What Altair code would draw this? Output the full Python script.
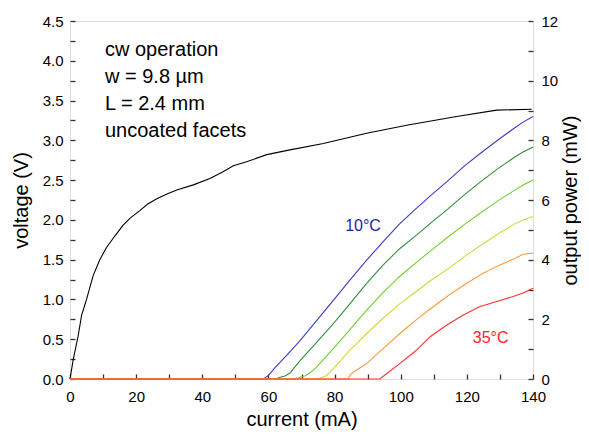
import altair as alt
import pandas as pd

# ---- voltage vs current (black curve, left axis) ----
v_current = [0, 1, 2.5, 3.5, 5, 7, 9, 11, 13.6, 16, 18.1, 21.2, 23.5, 26.4, 29.5,
             32.5, 37.3, 42.3, 46, 49.4, 53.4, 59.5, 66.5, 76.6, 89.7, 101.8, 116.9,
             129, 139.6]
v_voltage = [0, 0.25, 0.55, 0.8, 1.0, 1.3, 1.5, 1.65, 1.8, 1.93, 2.02, 2.12, 2.2, 2.27,
             2.33, 2.38, 2.44, 2.52, 2.6, 2.68, 2.73, 2.82, 2.88, 2.96, 3.09, 3.19,
             3.30, 3.38, 3.39]

# ---- output power vs current for each temperature (right axis) ----
temps = ["10°C", "15°C", "20°C", "25°C", "30°C", "35°C"]
colors = ["#3b3bc9", "#2f8f3a", "#6fd02e", "#cfd93a", "#ff9a3c", "#ff3030"]

p10_c = [0, 58.5, 60, 62, 65, 69.5, 74.5, 79.5, 84.5, 89.5, 94.5, 99.5, 104.3, 109.3,
         114.4, 119.4, 124.5, 129.5, 134.5, 137, 140]
p10_p = [0, 0, 0.12, 0.38, 0.73, 1.28, 1.95, 2.62, 3.3, 3.96, 4.58, 5.18, 5.68, 6.17,
         6.66, 7.15, 7.6, 8.02, 8.42, 8.61, 8.8]

p15_c = [0, 62.3, 63.5, 65, 66.5, 69.5, 74.5, 79.5, 84.5, 89.5, 94.5, 99.5, 104.3, 109.3,
         114.4, 119.4, 124.5, 129.5, 134.5, 137, 140]
p15_p = [0, 0, 0.06, 0.1, 0.2, 0.61, 1.22, 1.84, 2.5, 3.18, 3.8, 4.35, 4.78, 5.25,
         5.71, 6.19, 6.64, 7.06, 7.44, 7.61, 7.78]

p20_c = [0, 67.3, 69, 71, 72.5, 74.5, 79.5, 84.5, 89.5, 94.5, 99.5, 104.3, 109.3, 114.4,
         119.4, 124.5, 129.5, 134.5, 137, 140]
p20_p = [0, 0, 0.04, 0.1, 0.2, 0.39, 1.0, 1.64, 2.28, 2.88, 3.42, 3.87, 4.32, 4.77,
         5.19, 5.6, 5.98, 6.33, 6.5, 6.67]

p25_c = [0, 74.5, 76, 77.5, 79.5, 84.5, 89.5, 94.5, 99.5, 104.3, 109.3, 114.4, 119.4,
         124.5, 129.5, 134.5, 137, 140]
p25_p = [0, 0, 0.04, 0.11, 0.33, 0.95, 1.5, 2.02, 2.5, 2.9, 3.32, 3.7, 4.12, 4.5,
         4.87, 5.2, 5.33, 5.45]

p30_c = [0, 84, 85, 86, 89.5, 94.5, 99.5, 104.3, 109.3, 114.4, 119.4, 124.5, 129.5,
         134.5, 137, 140]
p30_p = [0, 0, 0.17, 0.25, 0.5, 1.0, 1.5, 1.95, 2.38, 2.8, 3.17, 3.52, 3.8, 4.04,
         4.18, 4.22]

p35_c = [0, 93.7, 96, 99.5, 104.3, 108.8, 113.8, 118.8, 123.8, 128.8, 133.8, 137, 140]
p35_p = [0, 0, 0.2, 0.5, 0.92, 1.41, 1.8, 2.14, 2.42, 2.59, 2.76, 2.88, 3.04]

# temperature annotations (data coordinates)
lab_text = ["10°C", "35°C"]
lab_current = [88.6, 127.2]
lab_power = [5.14, 1.39]
lab_colors = ["#2323a6", "#ff2424"]

info_lines = ["cw operation", "w = 9.8 µm", "L = 2.4 mm", "uncoated facets"]

x_ticks = list(range(0, 141, 10))
v_ticks = [i * 0.25 for i in range(19)]
p_ticks = list(range(0, 13))

FONT = "Liberation Sans"

df_v = pd.DataFrame({"current": v_current, "voltage": v_voltage})
rows = []
for t, cs, ps in zip(temps, [p10_c, p15_c, p20_c, p25_c, p30_c, p35_c],
                     [p10_p, p15_p, p20_p, p25_p, p30_p, p35_p]):
    for c, p in zip(cs, ps):
        rows.append({"temp": t, "current": c, "power": p})
df_p = pd.DataFrame(rows)
df_lab = pd.DataFrame({"text": lab_text, "current": lab_current, "power": lab_power,
                       "col": lab_colors})

x_scale = alt.Scale(domain=[0, 140], nice=False, zero=False)
x_axis = alt.Axis(values=x_ticks, labelExpr="datum.value % 20 == 0 ? datum.label : ''",
                  title="current (mA)", offset=-5, tickSize=5, domain=False, grid=False,
                  labelPadding=10, titlePadding=5, labelFlush=False, labelOverlap=False,
                  labelFontSize=15, titleFontSize=20, labelFont=FONT, titleFont=FONT,
                  titleFontWeight="normal", labelColor="black", titleColor="black",
                  tickColor="#333", tickWidth=1.3)

v_axis = alt.Axis(values=v_ticks, orient="left",
                  labelExpr="round(datum.value*100) % 50 == 0 ? format(datum.value, '.1f') : ''",
                  title="voltage (V)", offset=-5, tickSize=5, domain=False, grid=False,
                  labelPadding=7, titlePadding=11, labelFlush=False, labelOverlap=False,
                  labelFontSize=15, titleFontSize=20, labelFont=FONT, titleFont=FONT,
                  titleFontWeight="normal", labelColor="black", titleColor="black",
                  tickColor="#333", tickWidth=1.3)

p_axis = alt.Axis(values=p_ticks, orient="right",
                  labelExpr="datum.value % 2 == 0 ? datum.label : ''",
                  title="output power (mW)", offset=-5, tickSize=5, domain=False, grid=False,
                  labelPadding=8, titlePadding=3, labelFlush=False, labelOverlap=False,
                  labelFontSize=15, titleFontSize=20, labelFont=FONT, titleFont=FONT,
                  titleFontWeight="normal", labelColor="black", titleColor="black",
                  tickColor="#333", tickWidth=1.3, titleAngle=270, titleBaseline="top")

volt_line = alt.Chart(df_v).mark_line(color="black", strokeWidth=1.1).encode(
    x=alt.X("current:Q", scale=x_scale, axis=x_axis),
    y=alt.Y("voltage:Q", scale=alt.Scale(domain=[0, 4.5], nice=False), axis=v_axis),
)

info = alt.Chart(pd.DataFrame({"k": [0]})).mark_text(
    text=info_lines, align="left", baseline="alphabetic", fontSize=20, lineHeight=27,
    font=FONT, color="black",
).encode(x=alt.value(35), y=alt.value(34.5))

left = alt.layer(volt_line, info)

power_lines = alt.Chart(df_p).mark_line(strokeWidth=1.1).encode(
    x=alt.X("current:Q", scale=x_scale, axis=x_axis),
    y=alt.Y("power:Q", scale=alt.Scale(domain=[0, 12], nice=False), axis=p_axis),
    color=alt.Color("temp:N", scale=alt.Scale(domain=temps, range=colors), legend=None),
)

labels = alt.Chart(df_lab).mark_text(fontSize=16, font=FONT, align="center",
                                      baseline="middle").encode(
    x=alt.X("current:Q", scale=x_scale, axis=x_axis),
    y=alt.Y("power:Q", scale=alt.Scale(domain=[0, 12], nice=False), axis=p_axis),
    text="text:N",
    color=alt.Color("col:N", scale=None, legend=None),
)

right = alt.layer(power_lines, labels)

chart = alt.layer(left, right).resolve_scale(y="independent", color="independent").properties(
    width=463, height=358,
    padding={"left": 62, "top": 13, "right": 48, "bottom": 51},
    autosize=alt.AutoSizeParams(type="none"),
).configure_view(stroke="#333", strokeWidth=1.5).configure(background="white")

chart.save("out.html", embed_options={"renderer": "svg", "actions": False})
